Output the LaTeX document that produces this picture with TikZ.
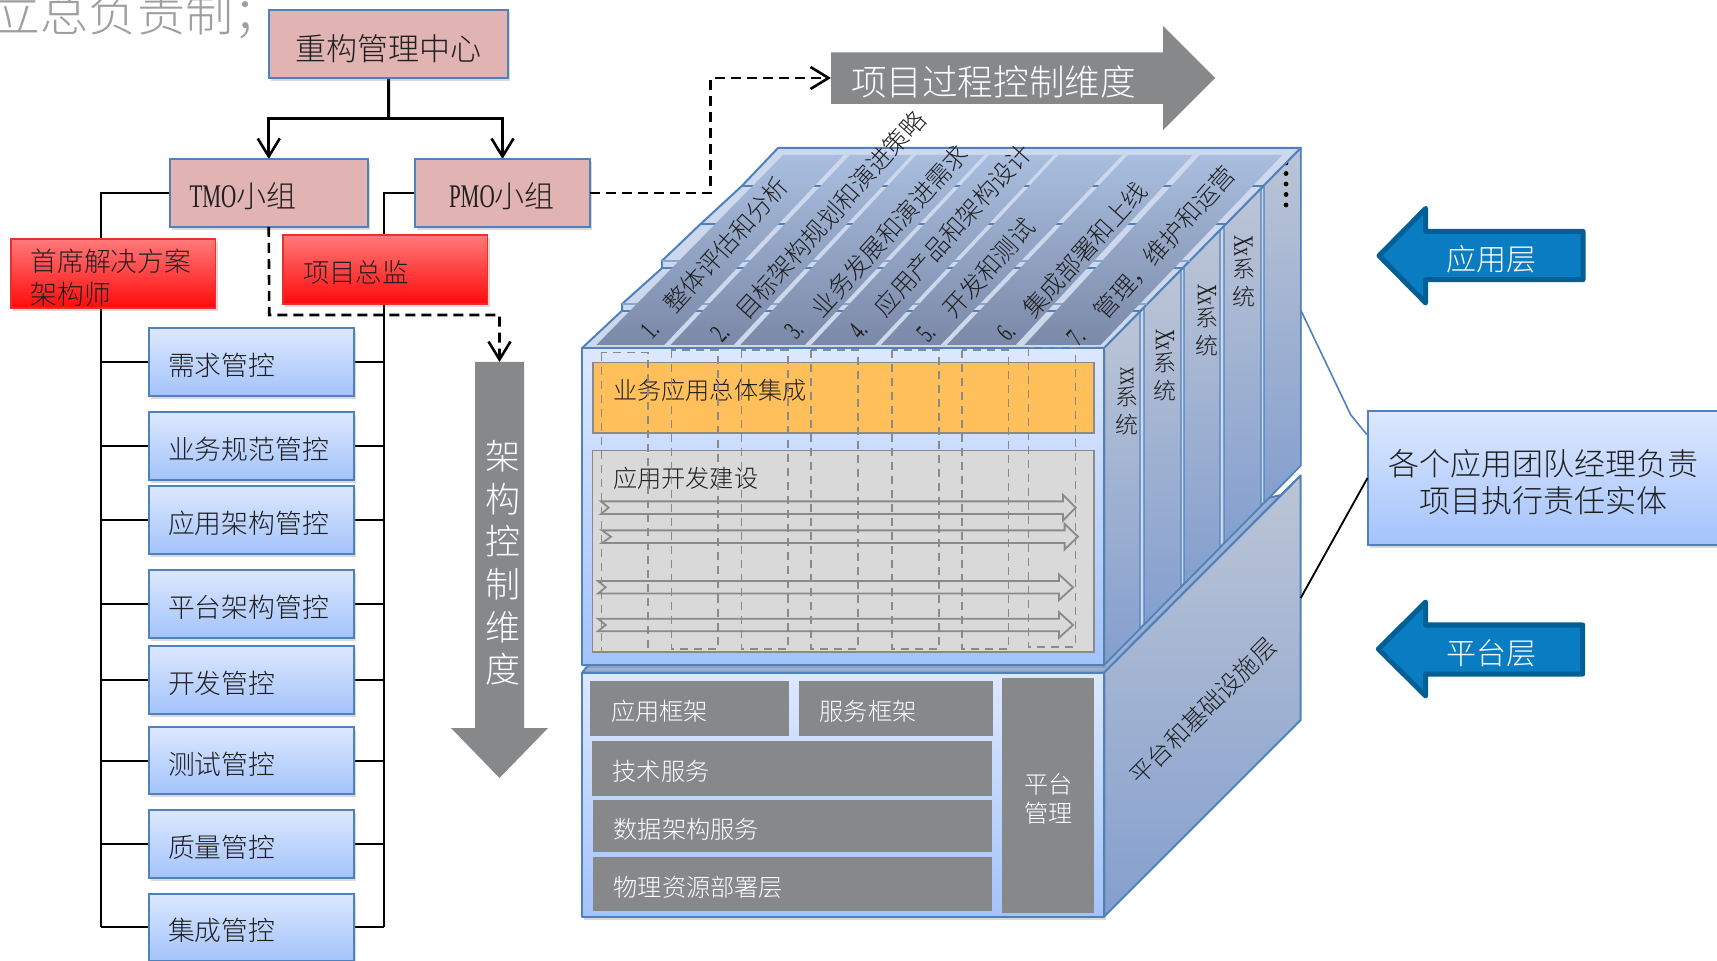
\documentclass[tikz,border=0pt]{standalone}
\usepackage{fontspec}
\usepackage{graphicx}
\setmainfont{Noto Sans CJK SC Light}
\newfontfamily\lat{Liberation Serif}
\usetikzlibrary{arrows.meta,shadows}
\definecolor{edgeblue}{HTML}{4F81BD}
\definecolor{pinkf}{HTML}{E1B3B3}
\definecolor{blueT}{HTML}{DDE8FF}
\definecolor{blueB}{HTML}{A3C3FB}
\definecolor{redT}{HTML}{FF7A7A}
\definecolor{redB}{HTML}{FF0A0A}
\definecolor{redE}{HTML}{E53030}
\definecolor{darkgray}{HTML}{87888A}
\definecolor{midgray}{HTML}{8A8A8A}
\definecolor{orangef}{HTML}{FFC05C}
\definecolor{lightg}{HTML}{D9D9D9}
\definecolor{stripT}{HTML}{A9BEDF}
\definecolor{stripB}{HTML}{7B89A8}
\definecolor{sideT}{HTML}{BCC5D6}
\definecolor{sideB}{HTML}{849FCE}
\definecolor{topf}{HTML}{CDD8EC}
\definecolor{arrf}{HTML}{0A7CC1}
\definecolor{arre}{HTML}{005F96}
\definecolor{ink}{HTML}{1F1F1F}
\pgfdeclarelayer{bg}
\pgfsetlayers{bg,main}
\newcommand\fs[1]{\fontsize{\fpeval{#1/2}pt}{\fpeval{#1*0.6}pt}\selectfont}
\newcommand\dn[1]{\rule{0pt}{\dimexpr .86em + #1pt\relax}}
\newcommand\up[1]{\rule[\dimexpr -.1em - #1pt\relax]{0pt}{\dimexpr .96em + #1pt\relax}}
\newcommand\narrow[2]{{\lat\fs{#1}\scalebox{.64}[1]{#2}}}
\newcommand\bx[8]{%
  \pgfmathsetmacro\bxw{(#5-#3)*0.5}%
  \pgfmathsetmacro\bxh{(#6-#4)*0.5}%
  \pgfmathsetmacro\bxt{(#5-#3-2*#7)*0.5}%
  \node[#1,anchor=north west,minimum width=\bxw pt,minimum height=\bxh pt,text width=\bxt pt] (#2) at (#3,#4) {#8};}
\tikzset{
  every node/.style={inner sep=0pt,outer sep=0pt,text=ink},
  softshadow/.style={drop shadow={shadow xshift=1pt,shadow yshift=-1.5pt,opacity=.3}},
  base/.style={align=left,font=\fs{26.8}},
  pinkbox/.style={base,draw=edgeblue,line width=1pt,fill=pinkf,softshadow},
  bluebox/.style={base,draw=edgeblue,line width=1pt,top color=blueT,bottom color=blueB,softshadow},
  redbox/.style={base,draw=redE,line width=.8pt,top color=redT,bottom color=redB,softshadow},
  graybox/.style={base,font=\fs{24.2},fill=darkgray,text=white},
  panelbox/.style={base,font=\fs{24.2},draw=midgray,line width=.8pt},
  tree/.style={draw=black,line width=1pt},
  treeh/.style={draw=black,line width=1.5pt},
  barb/.style={-{Straight Barb[length=9pt,width=11pt,line width=1.3pt]}},
  dashline/.style={draw=black,line width=1.3pt,dash pattern=on 5pt off 3pt},
  column/.style={draw=midgray,line width=.7pt,dash pattern=on 4pt off 3pt},
  hollow/.style={draw=midgray,line width=.9pt},
  strip/.style={top color=stripT,bottom color=stripB},
  sidepanel/.style={top color=sideT,bottom color=sideB,draw=edgeblue,line width=.7pt},
  cubeedge/.style={draw=edgeblue,line width=1pt,line join=round},
  seam/.style={draw=edgeblue,line width=1pt},
  seamlight/.style={draw=edgeblue!70,line width=.6pt},
  roof/.style={font=\fs{24.5},rotate=48},
  roofnum/.style={rotate=48},
  sidelabel/.style={font=\fs{23},align=center},
  bluearrow/.style={fill=arrf,draw=arre,line width=2.5pt,line join=round},
  greyarrow/.style={fill=darkgray},
  onarrow/.style={font=\fs{30},text=white}
}
\begin{document}
\begin{tikzpicture}[x=0.5pt,y=-0.5pt]
\useasboundingbox (0,0) rectangle (1717,961);
\clip (0,0) rectangle (1717,961);

% clipped heading
\node[font=\fs{48},text=black!38,anchor=west] (heading) at (-7,15) {立总负责制；};

% ---- left tree boxes
\bx{pinkbox,align=center,font=\fs{31}}{center}{269}{10}{508}{78}{0}{\dn{4}重构管理中心}
\bx{pinkbox,font=\fs{30}}{tmo}{170}{159}{367.5}{227}{19.5}{\dn{3}\narrow{33}{TMO}小组}
\bx{pinkbox,font=\fs{30}}{pmo}{415}{159}{590}{227}{34}{\dn{3}\narrow{33}{PMO}小组}
\bx{redbox}{chief}{11}{239}{215.5}{308}{19.5}{\dn{4}首席解决方案\\架构师}
\bx{redbox,font=\fs{26.4}}{director}{283}{235}{487.5}{304}{20}{\dn{3}项目总监}
\bx{bluebox}{n1}{149}{328.5}{354}{396.5}{19}{\dn{3}需求管控}
\bx{bluebox}{n2}{149}{411.7}{354}{479.6}{19}{\dn{3}业务规范管控}
\bx{bluebox}{n3}{149}{486}{354}{554}{19}{\dn{3}应用架构管控}
\bx{bluebox}{n4}{149}{570}{354}{638}{19}{\dn{3}平台架构管控}
\bx{bluebox}{n5}{149}{646}{354}{714}{19}{\dn{3}开发管控}
\bx{bluebox}{n6}{149}{727}{354}{794}{19}{\dn{3}测试管控}
\bx{bluebox}{n7}{149}{810}{354}{878}{19}{\dn{3}质量管控}
\bx{bluebox}{n8}{149}{893.5}{354}{961}{19}{\dn{3}集成管控}

\coordinate (split) at (388.7,118.5);
\coordinate (leftspine) at (101,927);
\coordinate (rightspine) at (384,927);
\coordinate (archTop) at (499.5,362);
\coordinate (procTail) at (831,78);
\coordinate (dashA) at (269.25,315);
\coordinate (dashB) at (710.6,193);

\begin{pgfonlayer}{bg}
  \draw[treeh] (center.south) -- (split);
  \draw[treeh,barb] (split) -| (tmo.north);
  \draw[treeh,barb] (split) -| (pmo.north);
  \draw[tree] (tmo.west) -| (leftspine);
  \draw[tree] (pmo.west) -| (rightspine);
  \foreach \n in {n1,n2,n3,n4,n5,n6,n7,n8}{
    \draw[tree] (\n.west) -- (\n.west -| leftspine);
    \draw[tree] (\n.east) -- (\n.east -| rightspine);
  }
\end{pgfonlayer}
\draw[dashline] (tmo.south) -- (dashA) -| (archTop) [barb];
\draw[dashline,barb] (pmo.east) -- (dashB) |- (procTail);

% ---- grey control arrows
\path[greyarrow] (831,52.5) -- (1163,52.5) -- (1163,26) -- (1215,78) -- (1163,130) -- (1163,104) -- (831,104) -- cycle;
\node[font=\fs{35.6},text=white,anchor=west] (proc) at (851,82) {项目过程控制维度};
\path[greyarrow] (475,362) -- (524,362) -- (524,728) -- (548,728) -- (499.5,778) -- (451,728) -- (475,728) -- cycle;
\node[font=\fs{35},text=white,align=center,execute at begin node={\fontsize{17.5}{21.35}\selectfont}] (arch) at (503,563) {架\\构\\控\\制\\维\\度};

% ---- platform block
\path[cubeedge,fill=sideB!60!sideT] (582,672.7) -- (600,652) -- (1281,495) -- (1300.7,475.6) -- (1104,672.7) -- cycle;
\path[cubeedge,top color=sideT,bottom color=sideB] (1104,672.7) -- (1300.7,475.6) -- (1300.7,720) -- (1104,916.7) -- cycle;
\path[cubeedge,top color=blueT,bottom color=blueB,softshadow] (582,672.7) rectangle (1104,916.7);

\bx{graybox}{appfw}{590.4}{681}{788.6}{736}{20.6}{\dn{3}应用框架}
\bx{graybox}{svcfw}{798.8}{681}{992.7}{736}{20.8}{\dn{3}服务框架}
\bx{graybox}{tech}{591.8}{741}{992}{796}{20.8}{\dn{3}技术服务}
\bx{graybox}{data}{592.8}{800}{992}{852}{20.8}{\dn{3}数据架构服务}
\bx{graybox}{phys}{592.8}{857}{992}{911}{20.8}{\dn{3}物理资源部署层}
\bx{graybox,align=center}{plat}{1002.4}{678.3}{1094}{913.3}{0}{\dn{3}平台\\管理}
\node[font=\fs{24.3},rotate=45] (platlabel) at (1203,711) {平台和基础设施层};

% ---- application block: sides
\path[cubeedge,fill=topf] (1104,348) -- (1300.7,148) -- (1300.7,465.5) -- (1104,665) -- cycle;
\path[sidepanel] (1104,348) -- (1140,311.4) -- (1140,628.5) -- (1104,665) -- cycle;
\path[sidepanel] (1144,307.3) -- (1181,269.7) -- (1181,586.9) -- (1144,624.4) -- cycle;
\path[sidepanel] (1184,266.6) -- (1220,230) -- (1220,547.4) -- (1184,583.9) -- cycle;
\path[sidepanel] (1224,226) -- (1261,188.3) -- (1261,505.8) -- (1224,543.3) -- cycle;
\path[sidepanel] (1264,185.3) -- (1300.7,148) -- (1300.7,465.5) -- (1264,502.8) -- cycle;
\node[sidelabel] (xx1) at (1127,401) {\rotatebox{-90}{\narrow{28}{xx}}\\系\\统};
\node[sidelabel] (xx2) at (1165,365) {\rotatebox{-90}{\narrow{28}{Xx}}\\系\\统};
\node[sidelabel] (xx3) at (1207,320) {\rotatebox{-90}{\narrow{28}{Xx}}\\系\\统};
\node[sidelabel] (xx4) at (1243.5,271) {\rotatebox{-90}{\narrow{28}{Xx}}\\系\\统};
\foreach \k in {0,...,4}
  \fill[black] (1286,163+\k*10.5) circle (2.4);

% ---- application block: roof
\path[cubeedge,fill=topf] (581.8,348.3) -- (622,310.7) -- (622,304) -- (661.8,268.3) -- (661.8,261) -- (700.6,224) -- (741.8,186) -- (778,148) -- (1300.7,148) -- (1104,348) -- cycle;
\draw[seam] (741.8,186) -- (1263.6,186);
\draw[seam] (700.6,223.6) -- (1226.6,223.6);
\draw[seam] (661.8,268.3) -- (1182.4,268.3);
\draw[seam] (622,311) -- (1139.7,311);
\draw[seamlight] (661.8,261) -- (1189.5,261);
\draw[seamlight] (622,304) -- (1146.7,304);
\path[strip] (596.4,345) -- (664.2,345) -- (843.6,155) -- (783,155) -- cycle;
\path[strip] (670.5,345) -- (733.5,345) -- (911.4,155) -- (849.9,155) -- cycle;
\path[strip] (740.3,345) -- (804.8,345) -- (984.1,155) -- (916.3,155) -- cycle;
\path[strip] (811.1,345) -- (875,345) -- (1053.5,155) -- (989,155) -- cycle;
\path[strip] (880.9,345) -- (940.5,345) -- (1122.3,155) -- (1058.3,155) -- cycle;
\path[strip] (946.8,345) -- (1015.6,345) -- (1192.6,155) -- (1128,155) -- cycle;
\path[strip] (1024.4,345) -- (1100.5,345) -- (1282.3,155) -- (1199.8,155) -- cycle;
\node[roofnum] (r1n) at (649.7,330) {\narrow{27}{1.}};
\node[roofnum] (r2n) at (720,333) {\narrow{27}{2.}};
\node[roofnum] (r3n) at (794,330) {\narrow{27}{3.}};
\node[roofnum] (r4n) at (858,330) {\narrow{27}{4.}};
\node[roofnum] (r5n) at (926,333) {\narrow{27}{5.}};
\node[roofnum] (r6n) at (1006,332) {\narrow{27}{6.}};
\node[roofnum] (r7n) at (1076,337) {\narrow{27}{7.}};
\node[roof] (r1) at (725.9,245) {整体评估和分析};
\node[roof] (r2) at (830.3,214.9) {目标架构规划和演进策略};
\node[roof] (r3) at (889.5,231) {业务发展和演进需求};
\node[roof] (r4) at (952.7,230) {应用产品和架构设计};
\node[roof] (r5) at (988.8,268) {开发和测试};
\node[roof] (r6) at (1084.8,249.9) {集成部署和上线};
\node[roof] (r7) at (1164.5,243) {管理，维护和运营};

% ---- application block: front
\path[cubeedge,top color=blueT,bottom color=blueB,softshadow] (582,348) rectangle (1104,665);
\bx{panelbox,fill=orangef}{integ}{593}{362.7}{1094}{433}{20}{\up{8}业务应用总体集成}
\bx{panelbox,fill=lightg}{devel}{592.5}{450.7}{1094}{652}{20.5}{\up{73}应用开发建设}

% hollow arrows
\draw[hollow] (601,501.4) -- (1063,501.4) -- (1063,494.9) -- (1075.7,507.7) -- (1063,520.5) -- (1063,514) -- (601,514) -- (608.6,507.7) -- cycle;
\draw[hollow] (602,530.4) -- (1064.6,530.4) -- (1064.6,523.9) -- (1078,536.7) -- (1064.6,549.5) -- (1064.6,543) -- (602,543) -- (611,536.7) -- cycle;
\draw[hollow] (597.9,581) -- (1059,581) -- (1059,574.5) -- (1073,587.3) -- (1059,600.1) -- (1059,593.6) -- (597.9,593.6) -- (605.7,587.3) -- cycle;
\draw[hollow] (597.9,618.7) -- (1059,618.7) -- (1059,612.2) -- (1073,625) -- (1059,637.8) -- (1059,631.3) -- (597.9,631.3) -- (605.7,625) -- cycle;

% dashed phase columns
\draw[column] (601.4,352.7) rectangle (647.9,652);
\draw[column] (671.4,350) rectangle (717.9,649);
\draw[column] (741.4,350) rectangle (787.9,649);
\draw[column] (811,350) rectangle (857.9,649);
\draw[column] (892,350) rectangle (939,649);
\draw[column] (962,350) rectangle (1008.6,649);
\draw[column] (1028.6,347.7) rectangle (1075.4,647);

% ---- right side
\path[bluearrow] (1583,231.4) -- (1425.7,231.4) -- (1425.7,208.4) -- (1379,255.7) -- (1425.7,303) -- (1425.7,279.7) -- (1583,279.7) -- cycle;
\node[onarrow] (applayer) at (1491.7,259.4) {应用层};
\path[bluearrow] (1582.7,625) -- (1425.7,625) -- (1425.7,602) -- (1378.3,649) -- (1425.7,696) -- (1425.7,674) -- (1582.7,674) -- cycle;
\node[onarrow] (platlayer) at (1491.7,653) {平台层};

\bx{bluebox,align=center,font=\fs{31}}{note}{1367.5}{411}{1720}{545}{0}{\dn{4}各个应用团队经理负责\\项目执行责任实体}
\coordinate (appEdge) at (1300.7,310);
\coordinate (platEdge) at (1300.7,598);
\coordinate (bend) at (1350.7,414.8);
\coordinate (noteIn) at (1366.7,434.4);
\draw[edgeblue,line width=.8pt] (appEdge) -- (bend) -- (noteIn);
\draw[black,line width=.9pt] (note.west) -- (platEdge);
\end{tikzpicture}
\end{document}
